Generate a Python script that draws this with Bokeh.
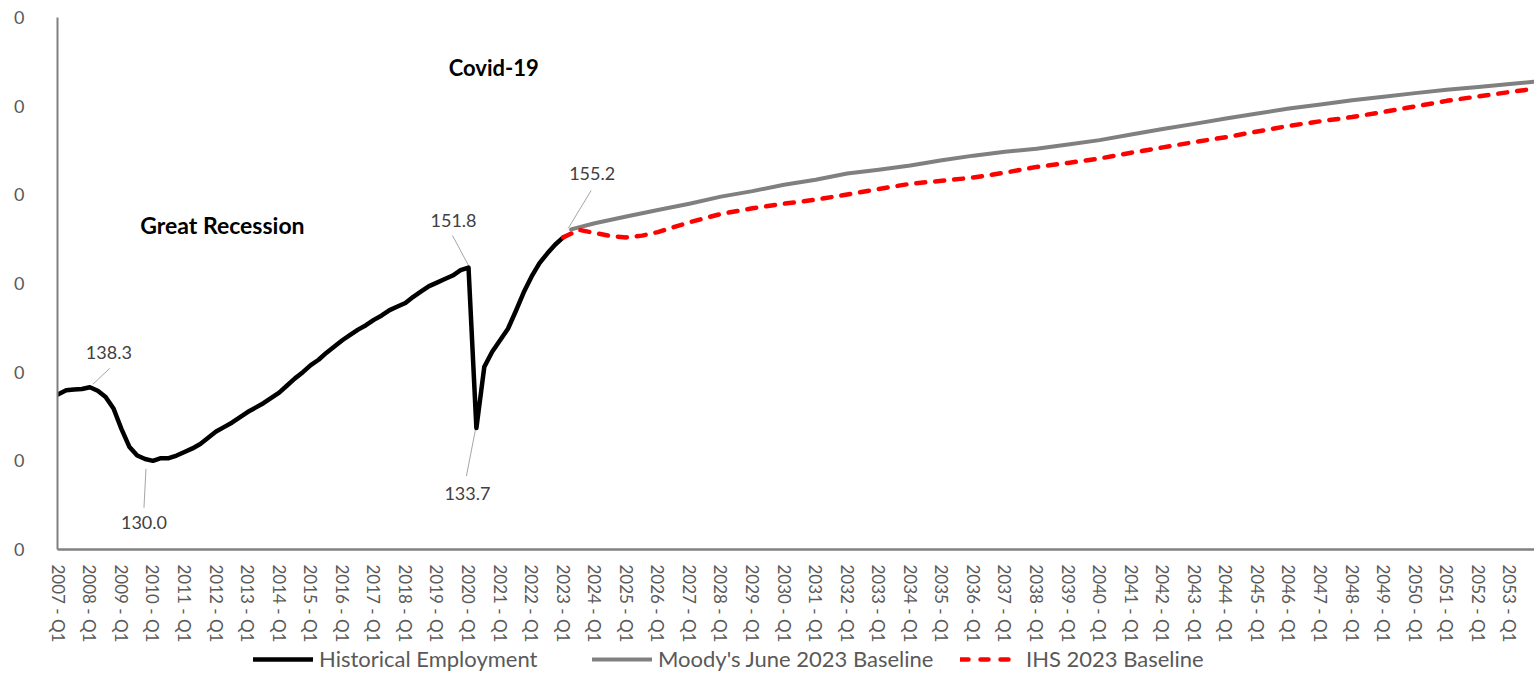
from bokeh.plotting import figure
from bokeh.layouts import column
from bokeh.models import Range1d, FixedTicker, Legend, LegendItem, Label, ColumnDataSource
from bokeh.embed import file_html
from bokeh.resources import INLINE
from bokeh.core.properties import value

# ---------------- data ----------------
years = list(range(2007, 2054))
quarters = [f"{y} - Q{q}" for y in years for q in range(1, 5)]
qidx = {q: i for i, q in enumerate(quarters)}

# Historical employment (millions), quarterly 2007 Q1 .. 2023 Q1
hist_start = "2007 - Q1"
hist_values = [
    137.5, 137.95, 138.05, 138.1,    # 2007
    138.3, 137.9, 137.2, 135.9,      # 2008
    133.6, 131.6, 130.6, 130.2,      # 2009
    130.0, 130.3, 130.3, 130.6,      # 2010
    131.0, 131.4, 131.9, 132.6,      # 2011
    133.3, 133.8, 134.3, 134.9,      # 2012
    135.5, 136.0, 136.5, 137.1,      # 2013
    137.7, 138.5, 139.3, 140.0,      # 2014
    140.8, 141.4, 142.2, 142.9,      # 2015
    143.6, 144.2, 144.8, 145.3,      # 2016
    145.9, 146.4, 147.0, 147.4,      # 2017
    147.8, 148.5, 149.1, 149.7,      # 2018
    150.1, 150.5, 150.9, 151.5,      # 2019
    151.8, 133.7, 140.6, 142.3,      # 2020
    143.6, 144.9, 146.9, 149.0,      # 2021
    150.8, 152.3, 153.4, 154.4,      # 2022
    155.2,                           # 2023 Q1
]

moody_quarters = ["2023 - Q2"] + [f"{y} - Q1" for y in range(2024, 2054)] + ["2053 - Q4"]
moody_values = [
    156.1,
    156.8, 157.55, 158.28, 159.0, 159.8, 160.42, 161.13, 161.7, 162.4, 162.82,
    163.3, 163.9, 164.42, 164.85, 165.2, 165.67, 166.17, 166.8, 167.43, 168.0,
    168.6, 169.17, 169.74, 170.2, 170.66, 171.07, 171.47, 171.85, 172.15, 172.5,
    172.75,
]

ihs_quarters = ["2023 - Q1", "2023 - Q3", "2024 - Q1", "2024 - Q3", "2025 - Q1",
                "2025 - Q3", "2026 - Q1"] + [f"{y} - Q1" for y in range(2027, 2054)] + ["2053 - Q4"]
ihs_values = [
    155.2, 156.05, 155.7, 155.35, 155.2, 155.4, 155.8,
    156.9, 157.85, 158.48, 159.0, 159.45, 160.03, 160.66, 161.25, 161.58, 161.95,
    162.5, 163.15, 163.6, 164.1, 164.75, 165.35, 165.95, 166.5, 167.15, 167.78,
    168.3, 168.77, 169.35, 169.97, 170.6, 171.1, 171.6,
    171.95,
]

# annotated points: quarter, label text
callouts = ["2008 - Q1", "2010 - Q1", "2020 - Q1", "2020 - Q2", "2023 - Q1"]
callout_texts = ["138.3", "130.0", "151.8", "133.7", "155.2"]

events = ["Great Recession", "Covid-19"]

y_ticks = [120, 130, 140, 150, 160, 170, 180]
y_tick_texts = ["0", "0", "0", "0", "0", "0", "0"]
x_tick_quarters = [f"{y} - Q1" for y in years]

series_names = ["Historical Employment", "Moody's June 2023 Baseline", "IHS 2023 Baseline"]

# ---------------- styling / layout ----------------
W = 1534
H_MAIN, H_LEG = 645, 29
BL, BT, BB, BR = 57, 17, 96, 0
PXQ = 7.889
X0 = -0.1
X1 = X0 + (W - BL - BR) / PXQ
Y0, Y1 = 120, 180
px_q = PXQ
px_u = (H_MAIN - BT - BB) / (Y1 - Y0)

# label offsets in screen px (dx, dy down-positive), leader start/end offsets
lab_off = [(19, -35), (-9, 62), (-15, -47), (-9, 65), (29, -64)]
lead_off = [((3, -3), (20, -19)), ((-7, 8), (-9, 47)), ((0, -2), (-16, -32)),
            ((-1, 2), (-10, 48)), ((5, -9), (28, -47))]

p = figure(width=W, height=H_MAIN, output_backend="svg", toolbar_location=None,
           x_range=Range1d(X0, X1), y_range=Range1d(Y0, Y1),
           min_border_left=BL, min_border_top=BT, min_border_bottom=BB, min_border_right=BR)
p.outline_line_color = None
p.grid.visible = False
p.background_fill_color = "white"
p.border_fill_color = "white"

hx = [qidx[hist_start] + k for k in range(len(hist_values))]
mx = [qidx[q] for q in moody_quarters]
ix = [qidx[q] for q in ihs_quarters]
cx = [qidx[q] for q in callouts]
cy = [hist_values[qidx[q] - qidx[hist_start]] for q in callouts]
sx0 = [x + a[0] / px_q for x, (a, b) in zip(cx, lead_off)]
sy0 = [y - a[1] / px_u for y, (a, b) in zip(cy, lead_off)]
sx1 = [x + b[0] / px_q for x, (a, b) in zip(cx, lead_off)]
sy1 = [y - b[1] / px_u for y, (a, b) in zip(cy, lead_off)]
p.segment(sx0, sy0, sx1, sy1, line_color="#a6a6a6", line_width=1)

line_styles = [
    dict(line_color="#000000", line_width=4.5, line_join="round", line_cap="round"),
    dict(line_color="#808080", line_width=4, line_join="round", line_cap="round"),
    dict(line_color="#ff0000", line_width=4.5, line_dash="9 10", line_join="round", line_cap="round"),
]
series_xy = [(hx, hist_values), (mx, moody_values), (ix, ihs_values)]

p.line(mx, moody_values, **line_styles[1])
p.line(hx, hist_values, **line_styles[0])
p.line(ix, ihs_values, **line_styles[2])

lsrc = ColumnDataSource(dict(x=cx, y=cy, t=callout_texts,
                             xo=[o[0] for o in lab_off], yo=[o[1] for o in lab_off]))
p.text(x="x", y="y", text="t", x_offset="xo", y_offset="yo", source=lsrc,
       text_font=value("Lato"), text_font_size="18px", text_color="#404040",
       text_align="center", text_baseline="middle")

p.add_layout(Label(x=20.8, y=156.65, text=events[0], text_font="Lato", text_font_style="bold",
                   text_font_size="23px", text_color="#000000", text_align="center",
                   text_baseline="middle"))
p.add_layout(Label(x=55.2, y=174.36, text=events[1], text_font="Lato", text_font_style="bold",
                   text_font_size="22px", text_color="#000000", text_align="center",
                   text_baseline="middle"))

# axes
ya = p.yaxis[0]
ya.ticker = FixedTicker(ticks=y_ticks, minor_ticks=[])
ya.major_label_overrides = {t: s for t, s in zip(y_ticks, y_tick_texts)}
ya.major_tick_out = 0
ya.major_tick_in = 0
ya.minor_tick_out = 0
ya.minor_tick_in = 0
ya.axis_line_color = "#808080"
ya.axis_line_width = 2
ya.major_label_standoff = 33
ya.major_label_text_font = "Lato"
ya.major_label_text_font_size = "18px"
ya.major_label_text_color = "#595959"

xa = p.xaxis[0]
xa.ticker = FixedTicker(ticks=[qidx[q] for q in x_tick_quarters], minor_ticks=[])
xa.major_label_overrides = {qidx[q]: q for q in x_tick_quarters}
xa.major_label_orientation = "vertical"
xa.major_tick_out = 0
xa.major_tick_in = 0
xa.minor_tick_out = 0
xa.minor_tick_in = 0
xa.axis_line_color = "#808080"
xa.axis_line_width = 2.5
xa.major_label_standoff = 15
xa.major_label_text_font = "Lato"
xa.major_label_text_font_size = "17px"
xa.major_label_text_color = "#595959"

# legend strip (its frame is aligned with the main frame, so x is measured from BL)
lf = figure(width=W, height=H_LEG, output_backend="svg", toolbar_location=None,
            x_range=Range1d(0, 1), y_range=Range1d(0, 1),
            x_axis_location=None, y_axis_location=None, min_border=0)
lf.outline_line_color = None
lf.grid.visible = False
leg_x = [253, 592, 960]
for name, style, (sx, sy), lx in zip(series_names, line_styles, series_xy, leg_x):
    st = dict(style)
    if "line_dash" in st:
        st["line_dash"] = "8 12"
    r = lf.line(sx, sy, **st)   # out of this strip's view; used for the legend swatch
    lg = Legend(items=[LegendItem(label=name, renderers=[r])], location=(lx - BL, 2),
                glyph_width=60, glyph_height=22, label_standoff=6, label_height=22,
                padding=0, margin=0, border_line_alpha=0, background_fill_alpha=0,
                label_text_font="Lato", label_text_font_size="22px",
                label_text_color="#595959")
    lf.add_layout(lg, "center")

open("out.html", "w").write(file_html(column(p, lf, spacing=0), INLINE))
